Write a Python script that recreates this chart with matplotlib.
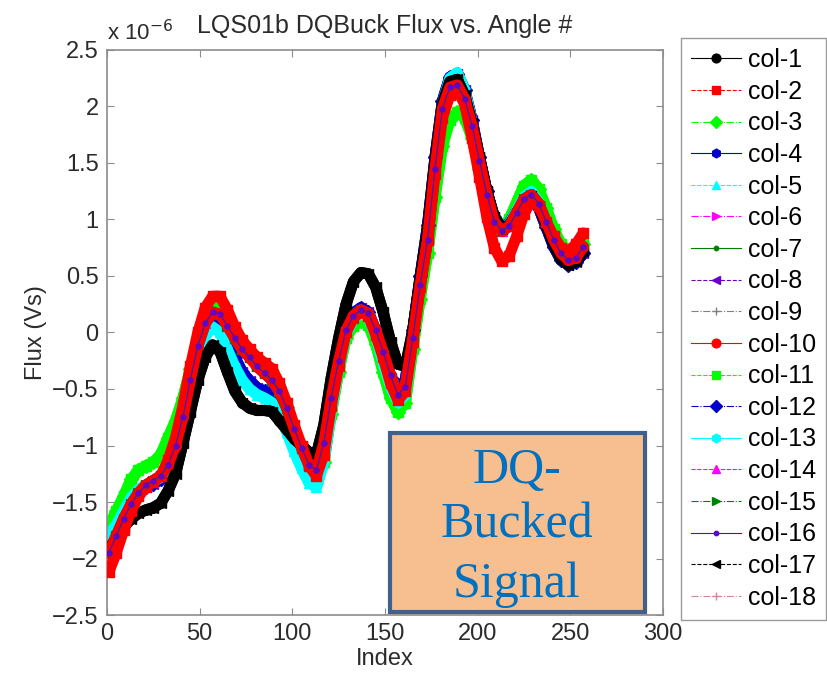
import numpy as np
import matplotlib.pyplot as plt
from matplotlib.patches import Rectangle

# sample index of each stored value
index = np.arange(1, 258, 4)

# flux traces (units of 1e-6 Vs)
flux_black = [-1.92, -1.82, -1.72, -1.65, -1.60, -1.57, -1.55, -1.51, -1.40, -1.25, -0.98, -0.70, -0.42,
              -0.22, -0.11, -0.17, -0.35, -0.52, -0.62, -0.67, -0.69, -0.69, -0.70, -0.78, -0.86, -0.94,
              -1.00, -1.06, -1.08, -0.82, -0.40, -0.05, 0.25, 0.45, 0.53, 0.52, 0.40, 0.18, -0.08,
              -0.28, -0.30, 0.02, 0.48, 0.92, 1.52, 2.02, 2.22, 2.24, 2.10, 1.85, 1.55, 1.25,
              1.02, 0.92, 0.95, 1.05, 1.16, 1.21, 1.12, 0.95, 0.78, 0.65, 0.60, 0.63, 0.72]
flux_red = [-2.12, -1.95, -1.75, -1.58, -1.45, -1.37, -1.32, -1.27, -1.13, -0.93, -0.65, -0.30, 0.00,
            0.22, 0.32, 0.32, 0.20, 0.05, -0.07, -0.15, -0.22, -0.27, -0.32, -0.45, -0.62, -0.82,
            -1.00, -1.18, -1.27, -1.08, -0.65, -0.30, 0.00, 0.13, 0.18, 0.15, -0.02, -0.22, -0.45,
            -0.60, -0.52, -0.08, 0.40, 0.82, 1.40, 1.90, 2.10, 2.15, 2.02, 1.72, 1.38, 1.02,
            0.75, 0.63, 0.68, 0.85, 1.05, 1.17, 1.12, 0.98, 0.85, 0.75, 0.72, 0.78, 0.88]
flux_green = [-1.72, -1.58, -1.45, -1.30, -1.22, -1.18, -1.15, -1.08, -0.93, -0.78, -0.58, -0.32, -0.05,
              0.15, 0.26, 0.25, 0.12, 0.00, -0.10, -0.18, -0.25, -0.30, -0.36, -0.48, -0.66, -0.88,
              -1.07, -1.25, -1.33, -1.15, -0.72, -0.35, -0.05, 0.06, 0.10, 0.07, -0.10, -0.35, -0.58,
              -0.70, -0.62, -0.15, 0.30, 0.70, 1.20, 1.65, 1.88, 1.95, 1.90, 1.72, 1.45, 1.18,
              0.98, 0.92, 1.00, 1.15, 1.30, 1.35, 1.27, 1.10, 0.92, 0.78, 0.70, 0.70, 0.78]
flux_blue = [-1.85, -1.75, -1.63, -1.50, -1.42, -1.37, -1.34, -1.30, -1.20, -1.03, -0.78, -0.48, -0.18,
             0.03, 0.12, 0.08, -0.07, -0.22, -0.35, -0.43, -0.49, -0.52, -0.55, -0.63, -0.76, -0.92,
             -1.07, -1.20, -1.25, -1.00, -0.58, -0.22, 0.05, 0.17, 0.22, 0.18, 0.02, -0.20, -0.40,
             -0.52, -0.42, 0.02, 0.50, 0.95, 1.55, 2.05, 2.26, 2.29, 2.15, 1.88, 1.55, 1.25,
             1.02, 0.93, 0.97, 1.08, 1.18, 1.20, 1.10, 0.93, 0.76, 0.64, 0.60, 0.62, 0.70]
flux_cyan = [-1.80, -1.70, -1.58, -1.46, -1.39, -1.35, -1.32, -1.28, -1.18, -1.02, -0.78, -0.50, -0.22,
             -0.03, 0.05, 0.00, -0.15, -0.30, -0.42, -0.50, -0.55, -0.58, -0.62, -0.72, -0.88, -1.05,
             -1.20, -1.33, -1.37, -1.15, -0.70, -0.32, -0.02, 0.12, 0.17, 0.13, -0.03, -0.27, -0.48,
             -0.62, -0.55, -0.08, 0.42, 0.88, 1.50, 2.02, 2.25, 2.30, 2.15, 1.86, 1.52, 1.22,
             1.00, 0.92, 0.96, 1.08, 1.20, 1.25, 1.15, 0.98, 0.80, 0.67, 0.62, 0.64, 0.72]
flux_mid = [-1.95, -1.80, -1.65, -1.52, -1.42, -1.35, -1.31, -1.27, -1.17, -1.00, -0.75, -0.42, -0.12,
            0.08, 0.18, 0.16, 0.06, -0.05, -0.15, -0.22, -0.30, -0.36, -0.42, -0.52, -0.67, -0.85,
            -1.02, -1.17, -1.22, -0.98, -0.58, -0.25, 0.02, 0.15, 0.20, 0.17, 0.02, -0.17, -0.38,
            -0.55, -0.48, -0.05, 0.42, 0.82, 1.45, 1.98, 2.17, 2.19, 2.07, 1.83, 1.52, 1.22,
            0.98, 0.90, 0.94, 1.06, 1.18, 1.22, 1.14, 0.98, 0.82, 0.70, 0.64, 0.66, 0.76]

labels = ['col-1', 'col-2', 'col-3', 'col-4', 'col-5', 'col-6', 'col-7', 'col-8', 'col-9',
          'col-10', 'col-11', 'col-12', 'col-13', 'col-14', 'col-15', 'col-16', 'col-17', 'col-18']
columns = [flux_black, flux_red, flux_green, flux_blue, flux_cyan, flux_mid, flux_mid, flux_blue, flux_mid,
           flux_mid, flux_green, flux_blue, flux_cyan, flux_mid, flux_mid, flux_mid, flux_black, flux_mid]

colours = ['black', 'red', '#00ff00', '#0000cc', 'cyan', 'magenta', '#007f00', '#6a00c8', '#808080',
           'red', '#00ff00', '#0000cc', 'cyan', 'magenta', '#007f00', '#6a00c8', 'black', '#d08aa0']
markers = ['o', 's', 'D', 'h', '^', '>', '.', '<', '+'] * 2
styles = ['-', '--', '-.'] * 6

plt.rcParams['font.family'] = ['Liberation Sans', 'DejaVu Sans']
plt.rcParams['font.size'] = 17

fig = plt.figure(figsize=(8.28, 6.78), dpi=100)
ax = fig.add_axes([0.1292, 0.0929, 0.6715, 0.8334])

for vals, lab, c, m, ls in zip(columns, labels, colours, markers, styles):
    # densely packed markers read as a thick band; small markers only as dots
    if m == '.':
        band, z = 0.0, 3.1
    elif m == '+':
        band, z = 0.0, 2.5
    elif c == 'red':
        band, z = 8.0, 3
    elif c == 'black':
        band, z = 8.0, 2.9
    else:
        band, z = 8.0, 2
    if band:
        ax.plot(index, vals, color=c, linewidth=band, solid_joinstyle='round',
                solid_capstyle='round', zorder=z)
    ax.plot(index, vals, color=c, marker=m, linestyle=ls, linewidth=0.8,
            markersize=7, markerfacecolor=c, markeredgecolor=c, markeredgewidth=1,
            label=lab, zorder=z)

ax.set_xlim(0, 300)
ax.set_ylim(-2.5, 2.5)
ax.set_xticks(np.arange(0, 301, 50))
ax.set_yticks(np.arange(-2.5, 2.51, 0.5))
ax.set_yticklabels(['\u22122.5', '\u22122', '\u22121.5', '\u22121', '\u22120.5', '0',
                    '0.5', '1', '1.5', '2', '2.5'])
for s in ax.spines.values():
    s.set_color('#8c8c8c')
    s.set_linewidth(1.2)
ax.tick_params(direction='in', length=5, color='#8c8c8c', top=True, right=True,
               labelcolor='#2b2b2b', pad=6)

ax.set_title('LQS01b DQBuck Flux vs. Angle #', color='#2b2b2b', fontsize=18, pad=12)
ax.set_xlabel('Index', color='#2b2b2b', labelpad=2)
ax.set_ylabel('Flux (Vs)', color='#2b2b2b', labelpad=4)
ax.text(0.0, 1.008, r'x 10$^{-6}$', transform=ax.transAxes, ha='left', va='bottom',
        color='#2b2b2b', fontsize=16)

ax.legend(loc='upper left', bbox_to_anchor=(681 / 828, 1 - 38 / 678), bbox_transform=fig.transFigure,
          borderaxespad=0, numpoints=1, fancybox=False, edgecolor='#9a9a9a', framealpha=1,
          handlelength=2.0, handletextpad=0.28, labelspacing=0.305, borderpad=0.4, fontsize=18,
          markerscale=0.9)

# annotation box
fig.patches.append(Rectangle((390 / 828, 1 - 612 / 678), 255 / 828, 179 / 678,
                             transform=fig.transFigure, facecolor='#f7bf8f',
                             edgecolor='#41618c', linewidth=3, zorder=5))
for word, ypx in [('DQ-', 483), ('Bucked', 538), ('Signal', 597)]:
    fig.text(517 / 828, 1 - ypx / 678, word, ha='center', va='baseline',
             family='Liberation Serif', fontsize=36, color='#0070c0', zorder=6)

fig.savefig('out.png', dpi=100, facecolor='white')
